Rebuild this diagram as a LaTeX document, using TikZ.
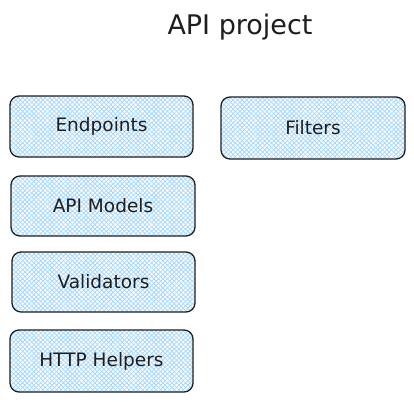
\documentclass[tikz,border=0pt]{standalone}
\usepackage{fontspec}
\setmainfont{DejaVu Sans}
\usetikzlibrary{patterns.meta}
\definecolor{boxline}{HTML}{1E1E1E}
\definecolor{hatch}{HTML}{A5D8FF}
\tikzset{
  box/.style={draw=boxline, line width=1.3pt, rounded corners=9pt,
    pattern={Lines[angle=45,distance=3.2pt,line width=0.8pt]}, pattern color=hatch},
  boxhatch/.style={rounded corners=9pt,
    pattern={Lines[angle=-45,distance=3.2pt,line width=0.8pt]}, pattern color=hatch},
  lbl/.style={font=\fontsize{18.5}{21}\selectfont, text=boxline},
}
\begin{document}
\begin{tikzpicture}[x=1pt,y=-1pt]
\useasboundingbox (0,0) rectangle (414,401);
\fill[white] (0,0) rectangle (414,401);
\node[font=\fontsize{27}{32}\selectfont, text=boxline] (title) at (240,27) {API project};
% boxes
\foreach \nm/\xa/\ya/\xb/\yb/\txt in {
  ep/10/96/193/157/Endpoints,
  fi/221/97/405/159/Filters,
  am/11/176/195/236/API Models,
  va/12/252/195/312/Validators,
  hh/10/330/193/392/HTTP Helpers}{
  \fill[boxhatch] (\xa,\ya) rectangle (\xb,\yb);
  \path[box] (\xa,\ya) rectangle (\xb,\yb);
  \node[lbl] (\nm) at ({(\xa+\xb)/2},{(\ya+\yb)/2}) {\txt};
}
\end{tikzpicture}
\end{document}
